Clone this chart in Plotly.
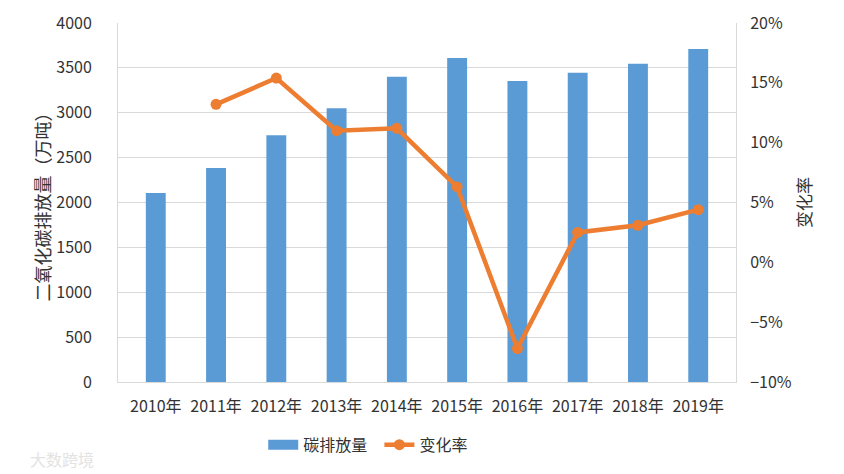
import plotly.graph_objects as go

years = ["2010年", "2011年", "2012年", "2013年", "2014年", "2015年", "2016年", "2017年", "2018年", "2019年"]
emissions = [2105, 2385, 2750, 3050, 3400, 3610, 3355, 3445, 3545, 3710]
change_rate = [None, 13.2, 15.4, 11.0, 11.2, 6.3, -7.2, 2.5, 3.1, 4.4]

left_ticks = [0, 500, 1000, 1500, 2000, 2500, 3000, 3500, 4000]
right_ticks = [-10, -5, 0, 5, 10, 15, 20]
right_labels = ["−10%", "−5%", "0%", "5%", "10%", "15%", "20%"]

font_family = "Noto Sans CJK SC, sans-serif"
text_color = "#333333"
grid_color = "#d9d9d9"
bar_color = "#5b9bd5"
line_color = "#ed7d31"

fig = go.Figure()
fig.add_trace(go.Bar(
    x=years, y=emissions, name="碳排放量",
    marker=dict(color=bar_color, line=dict(width=0)),
    yaxis="y", showlegend=False,
))
# legend proxy for the bar series (wide rectangle symbol)
fig.add_trace(go.Scatter(
    x=[None], y=[None], name="碳排放量  ", mode="lines",
    line=dict(color=bar_color, width=10), yaxis="y",
))
fig.add_trace(go.Scatter(
    x=years, y=change_rate, name="变化率",
    mode="lines+markers",
    line=dict(color=line_color, width=4.5),
    marker=dict(color=line_color, size=11),
    yaxis="y2", connectgaps=False,
))

# the page body adds an 8px offset; size the figure to fill the visible window
fig.update_layout(
    width=836, height=466,
    margin=dict(l=110, r=108, t=15, b=92),
    paper_bgcolor="white", plot_bgcolor="white",
    font=dict(family=font_family, size=16, color=text_color),
    bargap=0.67,
    showlegend=True,
    legend=dict(orientation="h", x=0.235, xanchor="left", y=-0.175, yanchor="middle",
                font=dict(family=font_family, size=16, color=text_color)),
    xaxis=dict(
        showgrid=False, showline=True, linecolor=grid_color, linewidth=1,
        ticks="", tickfont=dict(size=16), automargin=False, ticklabelstandoff=10,
    ),
    yaxis=dict(
        range=[0, 4000], tickvals=left_ticks, showgrid=True, gridcolor=grid_color, gridwidth=1,
        showline=True, linecolor=grid_color, linewidth=1, zeroline=False, ticks="",
        ticklabelstandoff=22, automargin=False,
        title=dict(text="二氧化碳排放量（万吨）", standoff=0,
                   font=dict(family=font_family, size=18, color=text_color)),
    ),
    yaxis2=dict(
        range=[-10, 20], tickvals=right_ticks, ticktext=right_labels, overlaying="y", side="right",
        showgrid=False, showline=True, linecolor=grid_color, linewidth=1, zeroline=False, ticks="",
        ticklabelstandoff=10, automargin=False,
        title=dict(text="变化率", standoff=8,
                   font=dict(family=font_family, size=17, color=text_color)),
    ),
)

fig.add_annotation(
    text="大数跨境", xref="paper", yref="paper", x=-0.09, y=-0.215, xanchor="center", yanchor="middle",
    showarrow=False, font=dict(family=font_family, size=16, color="#e3e3e3"),
)

fig.write_html("out.html")
